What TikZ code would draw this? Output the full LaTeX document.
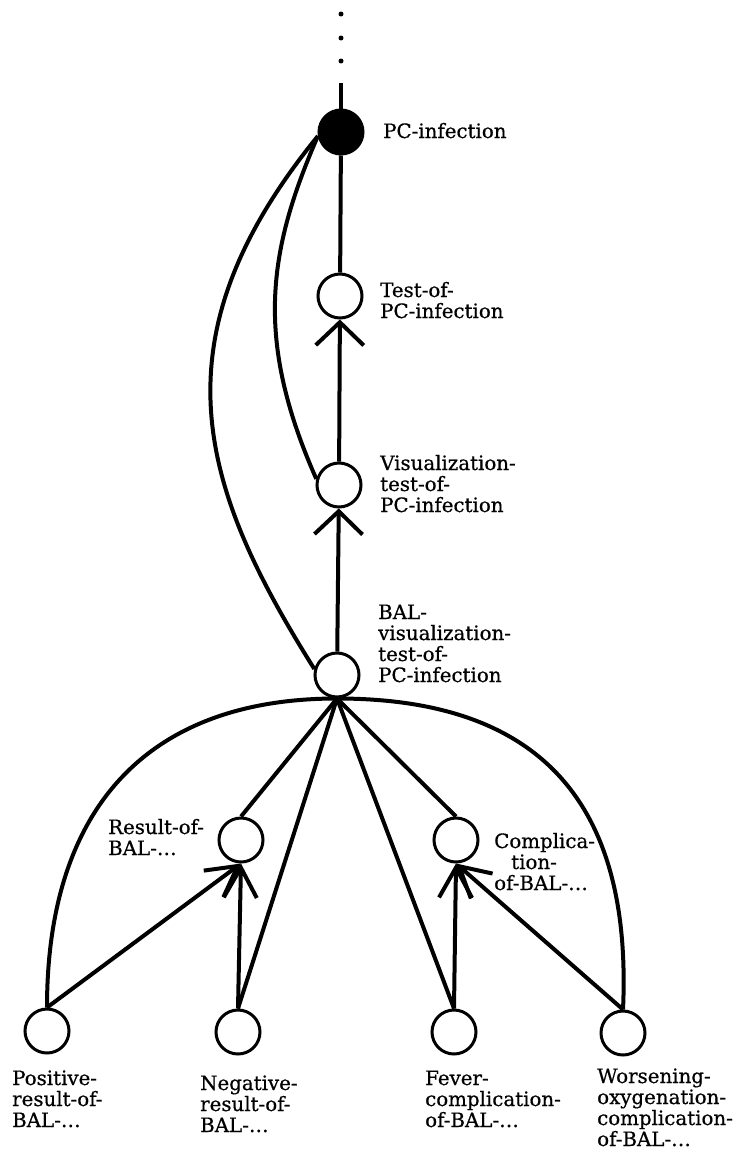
\documentclass[tikz,border=0pt]{standalone}
\usepackage{fontspec}
\setmainfont{DejaVu Serif}[FakeBold=0.6]
\usetikzlibrary{arrows.meta}
\begin{document}
\begin{tikzpicture}[x=1pt,y=-1pt,
  var/.style={circle,draw,line width=3pt,minimum size=44pt,inner sep=0pt},
  obs/.style={var,fill=black},
  % multi-line labels are placed by the baseline of their last line
  lbl/.style={anchor=base west,align=left,inner sep=0pt,font=\fontsize{19.8}{21}\selectfont},
  link/.style={line width=4pt},
  upar/.style={link,-{Straight Barb[length=23pt,width=48pt]}},
  lowar/.style={link,-{Straight Barb[length=30pt,width=33pt]}},
  dotmark/.style={circle,fill=black,inner sep=0pt,minimum size=5pt}
]
\useasboundingbox (0,0) rectangle (735,1151);

% continuation dots above the root
\node[dotmark] (d1) at (341,14) {};
\node[dotmark] (d2) at (341,38) {};
\node[dotmark] (d3) at (341,61) {};
\coordinate (stem) at (341,83);

% nodes
\node[obs] (pc)   at (341,132) {};
\node[var] (test) at (340,296) {};
\node[var] (vis)  at (339,485) {};
\node[var] (bal)  at (337,675) {};
\node[var] (res)  at (241,840) {};
\node[var] (comp) at (456,840) {};
\node[var] (pos)  at (47,1031) {};
\node[var] (neg)  at (238,1032) {};
\node[var] (fev)  at (454,1032) {};
\node[var] (wor)  at (623,1033) {};

% labels
\node[lbl] (lpc)   at (383,138) {PC-infection};
\node[lbl] (ltest) at (380,318) {Test-of-\\PC-infection};
\node[lbl] (lvis)  at (380,512) {Visualization-\\test-of-\\PC-infection};
\node[lbl] (lbal)  at (378,682) {BAL-\\visualization-\\test-of-\\PC-infection};
\node[lbl] (lres)  at (108,855) {Result-of-\\BAL-\ldots};
\node[lbl] (lcomp) at (494,890) {Complica-\\\hspace*{17pt}tion-\\of-BAL-\ldots};
\node[lbl] (lpos)  at (12,1127) {Positive-\\result-of-\\BAL-\ldots};
\node[lbl] (lneg)  at (200,1132) {Negative-\\result-of-\\BAL-\ldots};
\node[lbl] (lfev)  at (425,1127) {Fever-\\complication-\\of-BAL-\ldots};
\node[lbl] (lwor)  at (597,1146) {Worsening-\\oxygenation-\\complication-\\of-BAL-\ldots};

% spine
\draw[link] (stem) -- (pc);
\draw[link] (pc) -- (test);
\draw[upar] (vis) -- (test);
\draw[upar] (bal) -- (vis);

% long links from the root
\draw[link] (pc.190) .. controls +(-50,115) and +(-62,-140) .. (vis.165);
\draw[link] (pc.190) .. controls +(-167,205) and +(-113,-180) .. (bal.165);

% lower level
\draw[link] (res.north) -- (bal.south);
\draw[link] (neg.north) -- (bal.south);
\draw[link] (fev.north) -- (bal.south);
\draw[link] (comp.north) -- (bal.south);
\draw[lowar] (pos.north) -- (res.south);
\draw[lowar] (neg.north) -- (res.south);
\draw[lowar] (fev.north) -- (comp.south);
\draw[lowar] (wor.north) -- (comp.south);

% outer arcs
\draw[link] (pos.north) .. controls +(0,-200) and +(-189,0) .. (bal.south);
\draw[link] (wor.north) .. controls +(10,-218) and +(192,0) .. (bal.south);
\end{tikzpicture}
\end{document}
